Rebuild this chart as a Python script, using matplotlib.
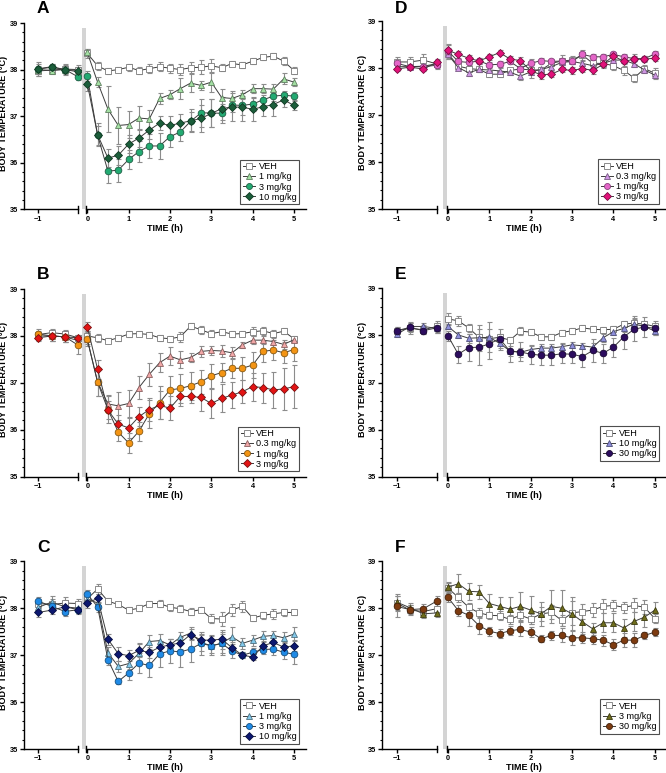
import matplotlib
matplotlib.use("Agg")
import matplotlib.pyplot as plt
import numpy as np

plt.rcParams['font.family'] = ['Liberation Sans', 'DejaVu Sans']

# ---------------- data ----------------
time_pre = [-1.0, -0.75, -0.5, -0.25]
time_post = [0, 0.25, 0.5, 0.75, 1, 1.25, 1.5, 1.75, 2, 2.25, 2.5, 2.75, 3,
             3.25, 3.5, 3.75, 4, 4.25, 4.5, 4.75, 5]
x_ticks_post = [0, 1, 2, 3, 4, 5]
x_ticks_pre = [-1]
y_ticks = [35, 36, 37, 38, 39]
panel_letters = ["A", "B", "C", "D", "E", "F"]

# values: 4 pre-dose points followed by 21 post-dose points
A_labels = ["VEH", "1 mg/kg", "3 mg/kg", "10 mg/kg"]
A_veh = [37.97, 37.99, 38.01, 38.0, 38.35, 38.08, 37.97, 38.0, 38.05, 37.98, 38.02, 38.06, 38.03,
         38.0, 38.04, 38.05, 38.08, 38.04, 38.13, 38.1, 38.18, 38.26, 38.29, 38.18, 37.98]
A_1 = [38.0, 37.98, 38.0, 37.95, 38.37, 37.73, 37.15, 36.8, 36.82, 36.96, 36.94, 37.38, 37.46,
       37.59, 37.71, 37.66, 37.73, 37.4, 37.38, 37.46, 37.59, 37.59, 37.58, 37.8, 37.73]
A_3 = [38.01, 38.05, 38.0, 37.84, 37.86, 36.59, 35.82, 35.84, 36.07, 36.24, 36.36, 36.36, 36.56,
       36.66, 36.89, 37.07, 37.07, 37.06, 37.24, 37.23, 37.26, 37.35, 37.43, 37.45, 37.43]
A_10 = [38.02, 38.06, 38.0, 37.98, 37.7, 36.6, 36.1, 36.16, 36.4, 36.53, 36.7, 36.85, 36.8,
        36.85, 36.9, 36.95, 37.06, 37.16, 37.2, 37.19, 37.15, 37.2, 37.25, 37.35, 37.23]
A_veh_err = [0.1, 0.08, 0.12, 0.1, 0.1, 0.08, 0.06, 0.06, 0.08, 0.08, 0.1, 0.1, 0.1, 0.12, 0.12,
             0.15, 0.15, 0.08, 0.06, 0.06, 0.06, 0.06, 0.06, 0.08, 0.08]
A_1_err = [0.05, 0.05, 0.05, 0.05, 0.08, 0.1, 0.5, 0.4, 0.28, 0.25, 0.2, 0.12, 0.1, 0.22, 0.2,
           0.1, 0.22, 0.18, 0.15, 0.1, 0.1, 0.1, 0.1, 0.12, 0.08]
A_3_err = [0.1, 0.06, 0.08, 0.06, 0.1, 0.2, 0.25, 0.25, 0.2, 0.22, 0.25, 0.27, 0.22, 0.2, 0.2,
           0.3, 0.3, 0.2, 0.15, 0.2, 0.15, 0.1, 0.1, 0.1, 0.08]
A_10_err = [0.15, 0.06, 0.1, 0.08, 0.15, 0.25, 0.2, 0.2, 0.2, 0.2, 0.2, 0.15, 0.2, 0.2, 0.25,
            0.3, 0.3, 0.25, 0.3, 0.3, 0.25, 0.2, 0.25, 0.15, 0.1]

B_labels = ["VEH", "0.3 mg/kg", "1 mg/kg", "3 mg/kg"]
B_veh = [38.03, 38.07, 38.04, 37.96, 38.0, 37.96, 37.9, 37.96, 38.04, 38.05, 38.03, 37.96, 37.94,
         37.98, 38.21, 38.13, 38.05, 38.09, 38.04, 38.05, 38.09, 38.11, 38.05, 38.1, 37.94]
B_03 = [38.0, 38.0, 37.98, 37.9, 37.93, 37.02, 36.55, 36.51, 36.56, 36.9, 37.18, 37.43, 37.57,
        37.49, 37.54, 37.67, 37.69, 37.68, 37.64, 37.81, 37.91, 37.91, 37.88, 37.82, 37.92]
B_1 = [38.04, 38.0, 37.98, 37.8, 37.93, 37.01, 36.43, 35.95, 35.72, 35.97, 36.34, 36.58, 36.85,
       36.88, 36.94, 37.02, 37.15, 37.22, 37.31, 37.31, 37.38, 37.67, 37.7, 37.64, 37.71]
B_3 = [37.96, 38.0, 37.98, 37.96, 38.2, 37.29, 36.42, 36.12, 36.04, 36.28, 36.43, 36.52, 36.46,
       36.71, 36.71, 36.69, 36.56, 36.67, 36.74, 36.81, 36.92, 36.9, 36.85, 36.87, 36.92]
B_veh_err = [0.08, 0.08, 0.08, 0.06, 0.1, 0.08, 0.06, 0.06, 0.06, 0.06, 0.06, 0.06, 0.06, 0.1,
             0.06, 0.08, 0.08, 0.06, 0.06, 0.06, 0.1, 0.08, 0.08, 0.06, 0.06]
B_03_err = [0.08, 0.1, 0.1, 0.06, 0.1, 0.3, 0.2, 0.3, 0.28, 0.25, 0.25, 0.2, 0.2, 0.18, 0.1,
            0.12, 0.1, 0.12, 0.12, 0.06, 0.08, 0.08, 0.08, 0.1, 0.06]
B_1_err = [0.1, 0.1, 0.12, 0.18, 0.15, 0.3, 0.28, 0.18, 0.22, 0.2, 0.3, 0.35, 0.3, 0.3, 0.3,
           0.25, 0.25, 0.2, 0.2, 0.25, 0.28, 0.22, 0.22, 0.22, 0.25]
B_3_err = [0.06, 0.1, 0.1, 0.06, 0.1, 0.2, 0.2, 0.2, 0.22, 0.2, 0.25, 0.3, 0.25, 0.2, 0.15,
           0.3, 0.3, 0.3, 0.28, 0.25, 0.3, 0.32, 0.38, 0.45, 0.45]

C_labels = ["VEH", "1 mg/kg", "3 mg/kg", "10 mg/kg"]
C_veh = [38.1, 38.08, 38.11, 38.1, 38.2, 38.41, 38.15, 38.08, 37.96, 38.0, 38.1, 38.1, 38.02,
         37.99, 37.93, 37.97, 37.78, 37.77, 37.96, 38.04, 37.79, 37.85, 37.88, 37.91, 37.91]
C_1 = [38.02, 38.13, 38.03, 38.0, 38.2, 38.11, 37.05, 36.76, 36.82, 37.04, 37.29, 37.31, 37.22,
       37.38, 37.47, 37.27, 37.2, 37.25, 37.39, 37.25, 37.32, 37.4, 37.42, 37.37, 37.45]
C_3 = [38.15, 38.04, 37.93, 37.97, 38.3, 38.03, 36.9, 36.44, 36.62, 36.83, 36.78, 37.03, 37.09,
       37.07, 37.13, 37.25, 37.2, 37.25, 37.09, 37.0, 37.06, 37.12, 37.13, 37.06, 37.02]
C_10 = [37.91, 37.96, 38.03, 37.97, 38.11, 38.21, 37.34, 37.03, 36.99, 37.1, 37.06, 37.17, 37.22,
        37.26, 37.44, 37.32, 37.32, 37.34, 37.16, 37.0, 36.96, 37.2, 37.27, 37.17, 37.2]
C_veh_err = [0.1, 0.12, 0.12, 0.1, 0.1, 0.1, 0.06, 0.06, 0.06, 0.06, 0.06, 0.08, 0.08, 0.08,
             0.08, 0.06, 0.1, 0.15, 0.12, 0.12, 0.06, 0.08, 0.1, 0.08, 0.06]
C_1_err = [0.1, 0.12, 0.15, 0.1, 0.1, 0.1, 0.12, 0.12, 0.12, 0.2, 0.15, 0.15, 0.12, 0.12, 0.12,
           0.18, 0.15, 0.2, 0.22, 0.12, 0.12, 0.12, 0.1, 0.12, 0.15]
C_3_err = [0.08, 0.08, 0.1, 0.1, 0.08, 0.1, 0.1, 0.06, 0.15, 0.22, 0.25, 0.28, 0.25, 0.32, 0.28,
           0.25, 0.2, 0.25, 0.15, 0.06, 0.1, 0.1, 0.12, 0.15, 0.2]
C_10_err = [0.1, 0.08, 0.1, 0.08, 0.1, 0.1, 0.12, 0.15, 0.12, 0.15, 0.12, 0.12, 0.12, 0.12, 0.12,
            0.12, 0.12, 0.2, 0.12, 0.06, 0.06, 0.1, 0.12, 0.12, 0.12]

D_labels = ["VEH", "0.3 mg/kg", "1 mg/kg", "3 mg/kg"]
D_veh = [38.13, 38.13, 38.17, 38.09, 38.31, 38.04, 37.99, 37.97, 37.87, 37.87, 37.95, 37.98, 37.96,
         37.96, 38.1, 38.15, 38.17, 38.28, 38.1, 38.1, 38.05, 37.95, 37.79, 37.99, 37.89]
D_03 = [38.03, 38.03, 38.04, 38.09, 38.29, 38.01, 37.9, 37.97, 37.96, 37.94, 37.91, 37.83, 37.92,
        37.97, 38.03, 38.12, 38.14, 38.1, 38.05, 38.1, 38.17, 38.17, 38.09, 37.96, 37.85]
D_1 = [38.1, 38.03, 38.03, 38.06, 38.36, 38.14, 38.12, 38.15, 38.07, 38.08, 38.14, 37.99, 38.1,
       38.16, 38.14, 38.15, 38.14, 38.29, 38.24, 38.24, 38.29, 38.24, 38.2, 38.2, 38.3]
D_3 = [37.98, 38.02, 37.98, 38.12, 38.38, 38.29, 38.21, 38.15, 38.24, 38.33, 38.19, 38.16, 37.94,
       37.86, 37.87, 37.97, 37.95, 37.99, 37.95, 38.08, 38.26, 38.14, 38.19, 38.19, 38.21]
D_veh_err = [0.1, 0.1, 0.12, 0.1, 0.12, 0.06, 0.06, 0.06, 0.06, 0.06, 0.06, 0.06, 0.06, 0.06,
             0.06, 0.12, 0.08, 0.1, 0.1, 0.1, 0.1, 0.1, 0.08, 0.08, 0.12]
D_03_err = [0.05, 0.05, 0.05, 0.05, 0.1, 0.06, 0.06, 0.06, 0.06, 0.06, 0.06, 0.08, 0.06, 0.06,
            0.06, 0.06, 0.06, 0.06, 0.08, 0.08, 0.06, 0.06, 0.06, 0.06, 0.06]
D_1_err = [0.05, 0.05, 0.05, 0.05, 0.15, 0.06, 0.06, 0.06, 0.06, 0.06, 0.06, 0.06, 0.1, 0.06,
           0.06, 0.06, 0.06, 0.06, 0.06, 0.06, 0.06, 0.06, 0.06, 0.06, 0.06]
D_3_err = [0.05, 0.05, 0.05, 0.05, 0.1, 0.08, 0.06, 0.06, 0.06, 0.06, 0.06, 0.08, 0.15, 0.1,
           0.06, 0.06, 0.08, 0.08, 0.08, 0.06, 0.06, 0.06, 0.1, 0.06, 0.06]

E_labels = ["VEH", "10 mg/kg", "30 mg/kg"]
E_veh = [38.1, 38.15, 38.12, 38.19, 38.35, 38.31, 38.16, 37.96, 37.93, 37.96, 37.9, 38.09, 38.07,
         37.97, 37.97, 38.06, 38.1, 38.16, 38.13, 38.12, 38.13, 38.24, 38.26, 38.24, 38.19]
E_10 = [38.02, 38.19, 38.19, 38.15, 38.19, 38.01, 37.94, 37.95, 37.96, 37.83, 37.67, 37.64, 37.7,
        37.73, 37.73, 37.76, 37.8, 37.78, 37.75, 37.95, 38.08, 38.15, 38.24, 38.19, 38.09]
E_30 = [38.1, 38.17, 38.1, 38.16, 37.99, 37.6, 37.74, 37.75, 37.82, 37.93, 37.66, 37.65, 37.6,
        37.58, 37.58, 37.61, 37.6, 37.55, 37.68, 37.62, 37.75, 37.97, 38.13, 38.18, 38.15]
E_veh_err = [0.08, 0.12, 0.1, 0.12, 0.12, 0.1, 0.08, 0.06, 0.06, 0.06, 0.06, 0.08, 0.06, 0.06,
             0.06, 0.06, 0.06, 0.06, 0.06, 0.06, 0.06, 0.06, 0.15, 0.06, 0.06]
E_10_err = [0.05, 0.1, 0.08, 0.1, 0.06, 0.06, 0.1, 0.28, 0.32, 0.15, 0.1, 0.1, 0.08, 0.08, 0.08,
            0.08, 0.06, 0.06, 0.08, 0.08, 0.08, 0.08, 0.1, 0.06, 0.08]
E_30_err = [0.08, 0.1, 0.08, 0.1, 0.1, 0.18, 0.28, 0.38, 0.32, 0.2, 0.22, 0.2, 0.2, 0.2, 0.2,
            0.2, 0.18, 0.22, 0.25, 0.2, 0.2, 0.25, 0.25, 0.22, 0.15]

F_labels = ["VEH", "3 mg/kg", "30 mg/kg"]
F_veh = [38.11, 37.96, 37.93, 37.99, 38.43, 38.23, 38.02, 37.9, 37.85, 37.84, 37.76, 37.85, 37.77,
         37.88, 37.91, 37.74, 37.9, 37.93, 37.96, 38.04, 38.06, 38.02, 38.06, 38.02, 37.78]
F_3 = [38.13, 38.01, 37.88, 37.9, 38.45, 38.52, 38.36, 38.35, 38.1, 38.04, 37.98, 38.04, 37.96,
       37.88, 38.04, 38.0, 37.88, 37.71, 37.56, 37.69, 37.69, 37.58, 37.72, 37.81, 37.96]
F_30 = [38.04, 37.97, 37.99, 38.15, 38.23, 37.95, 37.85, 37.63, 37.51, 37.46, 37.52, 37.55, 37.49,
        37.35, 37.42, 37.42, 37.37, 37.37, 37.35, 37.32, 37.22, 37.32, 37.32, 37.42, 37.49]
F_veh_err = [0.15, 0.1, 0.08, 0.1, 0.1, 0.1, 0.1, 0.1, 0.08, 0.1, 0.1, 0.12, 0.1, 0.15, 0.15,
             0.12, 0.25, 0.15, 0.15, 0.15, 0.12, 0.12, 0.15, 0.15, 0.1]
F_3_err = [0.18, 0.1, 0.08, 0.08, 0.1, 0.2, 0.18, 0.15, 0.2, 0.2, 0.25, 0.3, 0.3, 0.25, 0.35,
           0.38, 0.35, 0.25, 0.12, 0.2, 0.2, 0.2, 0.2, 0.2, 0.18]
F_30_err = [0.22, 0.1, 0.1, 0.1, 0.1, 0.12, 0.22, 0.18, 0.1, 0.1, 0.1, 0.15, 0.1, 0.08, 0.1,
            0.15, 0.15, 0.12, 0.12, 0.12, 0.12, 0.15, 0.15, 0.08, 0.08]

# ---------------- styles ----------------
VEH_STYLE = dict(marker='s', face='white', edge='#7a7a7a', ms=4.2)
panels = [
    ("A", A_labels, [A_veh, A_1, A_3, A_10], [A_veh_err, A_1_err, A_3_err, A_10_err],
     [VEH_STYLE, dict(marker='^', face='#a3e0a3', edge='#5f7f5f', ms=5.0),
      dict(marker='o', face='#23aa72', edge='#1f5f45', ms=4.8),
      dict(marker='D', face='#1b5e3b', edge='#103822', ms=4.0)]),
    ("B", B_labels, [B_veh, B_03, B_1, B_3], [B_veh_err, B_03_err, B_1_err, B_3_err],
     [VEH_STYLE, dict(marker='^', face='#f2a7a7', edge='#8a6060', ms=5.0),
      dict(marker='o', face='#f39414', edge='#8a5a10', ms=4.8),
      dict(marker='D', face='#e31414', edge='#7a1010', ms=4.0)]),
    ("C", C_labels, [C_veh, C_1, C_3, C_10], [C_veh_err, C_1_err, C_3_err, C_10_err],
     [VEH_STYLE, dict(marker='^', face='#82c8ea', edge='#4d7080', ms=5.0),
      dict(marker='o', face='#1f8ae6', edge='#155080', ms=4.8),
      dict(marker='D', face='#0c1870', edge='#060c40', ms=4.0)]),
    ("D", D_labels, [D_veh, D_03, D_1, D_3], [D_veh_err, D_03_err, D_1_err, D_3_err],
     [VEH_STYLE, dict(marker='^', face='#cf96e3', edge='#7a5a85', ms=5.0),
      dict(marker='o', face='#e466c8', edge='#86407a', ms=4.8),
      dict(marker='D', face='#e2127a', edge='#7a0c42', ms=4.0)]),
    ("E", E_labels, [E_veh, E_10, E_30], [E_veh_err, E_10_err, E_30_err],
     [VEH_STYLE, dict(marker='^', face='#8e8fdc', edge='#50507a', ms=5.0),
      dict(marker='o', face='#2c0c5e', edge='#180632', ms=4.8)]),
    ("F", F_labels, [F_veh, F_3, F_30], [F_veh_err, F_3_err, F_30_err],
     [VEH_STYLE, dict(marker='^', face='#6f6d1c', edge='#3c3b0e', ms=5.0),
      dict(marker='o', face='#7d3b10', edge='#42200a', ms=4.8)]),
]

# ---------------- layout (pixels) ----------------
W, H = 666, 773
rows = [(23, 209.3), (289, 476.7), (561.3, 749)]
rows_right = [(21, 209.3), (288.3, 476.7), (561.3, 749)]
letter_y = [8.5, 274, 547]
cols = [dict(yaxis=24, left_end=81, r0=82.3, r1=306, rmax=5.29),
        dict(yaxis=382.3, left_end=439.3, r0=443, r1=666, rmax=5.27)]

LINE_C = '#3c3c3c'
ERR_C = '#8c8c8c'
BAR_C = '#d4d4d4'
TICK_FS = 5.3
LAB_FS = 6.5

fig = plt.figure(figsize=(W / 100, H / 100), dpi=100)


def rect(x0, x1, yt, yb):
    return [x0 / W, 1 - yb / H, (x1 - x0) / W, (yb - yt) / H]


n_pre = len(time_pre)
for idx, (letter, labels, vals, errs, styles) in enumerate(panels):
    c = idx // 3
    r = idx % 3
    col = cols[c]
    yt, yb = (rows if c == 0 else rows_right)[r]
    axL = fig.add_axes(rect(col['yaxis'], col['left_end'], yt, yb))
    axR = fig.add_axes(rect(col['r0'], col['r1'], yt, yb))
    for ax in (axL, axR):
        ax.set_ylim(35, 39)
        ax.patch.set_alpha(0)
        for s in ('top', 'right'):
            ax.spines[s].set_visible(False)
        ax.spines['bottom'].set_linewidth(1.0)
        ax.spines['left'].set_linewidth(1.0)
        ax.tick_params(axis='both', which='major', length=3, width=1.0,
                       labelsize=TICK_FS, pad=1.5)
    axL.set_xlim(-1.27, -0.2)
    axR.set_xlim(-0.12, col['rmax'])
    axL.spines['bottom'].set_bounds(-1.27, -0.25)
    axR.spines['bottom'].set_bounds(-0.02, col['rmax'])
    axR.spines['left'].set_visible(False)
    axR.tick_params(axis='y', left=False, labelleft=False)
    axL.set_yticks(y_ticks)
    axL.set_yticks(np.arange(35, 39.01, 0.2), minor=True)
    axL.tick_params(axis='y', which='minor', length=1.8, width=0.8)
    axL.set_xticks(x_ticks_pre)
    axR.set_xticks(x_ticks_post)
    for lab in axL.get_xticklabels() + axL.get_yticklabels() + axR.get_xticklabels():
        lab.set_fontweight('bold')
    # break caps
    axL.plot([-0.25, -0.25], [-0.018, 0.018], color='black', lw=1.0,
             transform=axL.get_xaxis_transform(), clip_on=False)
    axR.plot([-0.02, -0.02], [-0.018, 0.018], color='black', lw=1.0,
             transform=axR.get_xaxis_transform(), clip_on=False)
    # dosing bar
    axR.fill_between([-0.12, -0.02], 35, 38.9, color=BAR_C, lw=0, zorder=0.5)

    handles = []
    for k, (v, e, st) in enumerate(zip(vals, errs, styles)):
        v = np.asarray(v)
        e = np.asarray(e)
        for ax, xs, sl in ((axL, time_pre, slice(0, n_pre)), (axR, time_post, slice(n_pre, None))):
            ax.errorbar(xs, v[sl], yerr=e[sl], fmt='none', ecolor=ERR_C, elinewidth=0.8,
                        capsize=1.8, capthick=0.8, zorder=1 + k * 0.01, clip_on=False)
            ln, = ax.plot(xs, v[sl], color=LINE_C, lw=0.7, marker=st['marker'],
                          ms=st['ms'], mfc=st['face'], mec=st['edge'], mew=0.6,
                          zorder=3 + k, clip_on=False, label=labels[k])
        handles.append(ln)

    leg = axR.legend(handles=handles, labels=labels, loc='upper right',
                     bbox_to_anchor=(0.969, 0.267), frameon=True, fancybox=False,
                     edgecolor='#222222', fontsize=6.6, handlelength=1.3,
                     handletextpad=0.4, borderpad=0.3, labelspacing=0.12,
                     borderaxespad=0.0, markerscale=0.9)
    leg.get_frame().set_linewidth(0.8)
    leg.set_zorder(20)

    # labels
    x_left = col['yaxis']
    fig.text(((x_left + (306 if c == 0 else 666)) / 2) / W, 1 - (yb + 19) / H, "TIME (h)",
             ha='center', va='center', fontsize=LAB_FS, fontweight='bold')
    fig.text((x_left - 20) / W, 1 - ((yt + yb) / 2 - 3) / H, "BODY TEMPERATURE (°C)",
             ha='center', va='center', rotation=90, fontsize=LAB_FS, fontweight='bold')
    fig.text((x_left + 13) / W, 1 - letter_y[r] / H, letter, ha='left', va='center',
             fontsize=12.5, fontweight='bold')

fig.savefig("out.png", dpi=100)
